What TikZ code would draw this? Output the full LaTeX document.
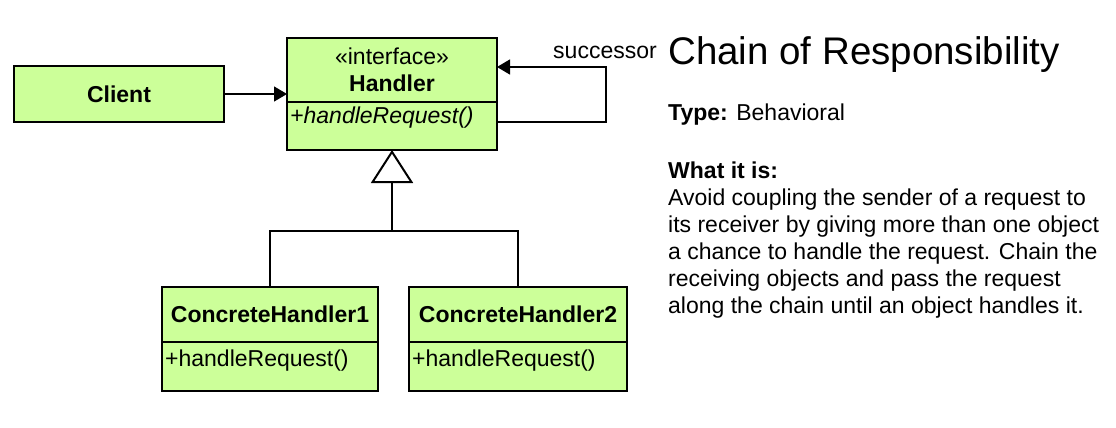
\documentclass[tikz,border=0pt]{standalone}
\usepackage{fontspec}
\setmainfont{Liberation Sans}
\usepackage{xcolor}
\usetikzlibrary{arrows.meta,calc,positioning}
\definecolor{umlgreen}{RGB}{204,255,153}
\tikzset{
  umlbox/.style={draw,line width=2.3pt,fill=umlgreen,inner sep=0pt,outer sep=0pt},
  link/.style={line width=1.4pt},
  assoc/.style={link,-{Triangle[length=13pt,width=15pt]}},
  inherit/.style={link,-{Triangle[open,length=33pt,width=42pt,line width=2pt]}},
  every node/.style={font=\fontsize{23}{27}\selectfont,inner sep=0pt}
}

\begin{document}
\begin{tikzpicture}[x=1pt,y=-1pt,line cap=butt,line join=miter]
  \useasboundingbox (0,0) rectangle (1116,428);

  % --- Classes ---
  \node[umlbox,minimum width=210,minimum height=56] (client) at (119,94) {\bfseries Client};
  \node[umlbox,minimum width=210,minimum height=64,align=center] (handlerHead) at (392,70)
    {«interface»\\\bfseries Handler};
  \node[umlbox,minimum width=210,minimum height=48,below=0pt of handlerHead] (handlerBody) {};
  \node[anchor=west] (handlerOp) at ([xshift=3pt,yshift=8pt]handlerBody.west) {\itshape +handleRequest()};

  \node[umlbox,minimum width=216,minimum height=55] (ch1Head) at (270,314.5) {\bfseries ConcreteHandler1};
  \node[umlbox,minimum width=216,minimum height=49,below=0pt of ch1Head] (ch1Body) {};
  \node[anchor=west] (ch1Op) at ([xshift=3pt,yshift=6pt]ch1Body.west) {+handleRequest()};

  \node[umlbox,minimum width=218,minimum height=55] (ch2Head) at (518,314.5) {\bfseries ConcreteHandler2};
  \node[umlbox,minimum width=218,minimum height=49,below=0pt of ch2Head] (ch2Body) {};
  \node[anchor=west] (ch2Op) at ([xshift=3pt,yshift=6pt]ch2Body.west) {+handleRequest()};

  % --- Client -> Handler ---
  \draw[assoc] (client.east) -- (client.east -| handlerHead.west);

  % --- successor loop ---
  \coordinate (loopTop) at (606,67);
  \draw[assoc] ([yshift=4pt]handlerBody.east) -| (loopTop) -- (loopTop -| handlerHead.east);
  \node (succ) at (605,52) {successor};

  % --- Generalization ---
  \coordinate (joint) at (392,231);
  \draw[link] (ch1Head.north) |- (joint) -| (ch2Head.north);
  \draw[inherit] (joint) -- (handlerBody.south);

  % --- Description ---
  \node[anchor=west,font=\fontsize{38.5}{44}\selectfont] (title) at (668,55) {Chain of Responsibility};
  \node[anchor=west] (type) at (668,115) {\textbf{Type:} Behavioral};
  \node[anchor=north west,align=left] (what) at (668,162)
    {\textbf{What it is:}\\
     Avoid coupling the sender of a request to\\
     its receiver by giving more than one object\\
     a chance to handle the request. Chain the\\
     receiving objects and pass the request\\
     along the chain until an object handles it.};
\end{tikzpicture}
\end{document}
